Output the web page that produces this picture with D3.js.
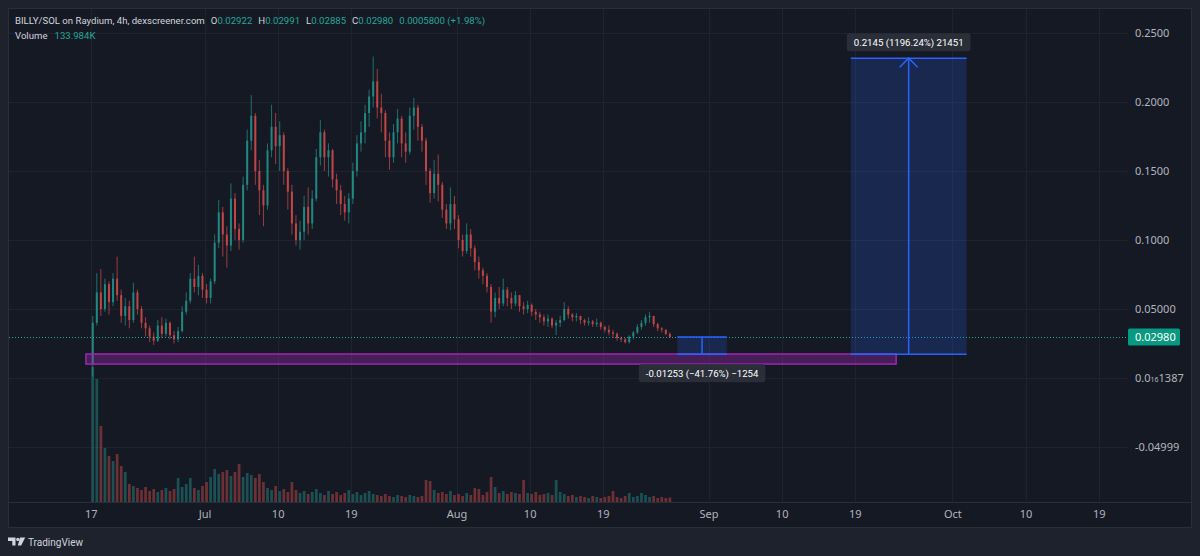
<!DOCTYPE html>
<html>
<head>
<meta charset="utf-8">
<script src="https://cdn.jsdelivr.net/npm/d3@7"></script>
<style>
  html, body { margin: 0; padding: 0; background: #1e222d; }
  svg { display: block; font-family: "Noto Sans", "Open Sans", sans-serif; }
</style>
</head>
<body>
<div id="chart"></div>
<script>
// BILLY/SOL 12h candles, prices in thousandths of SOL
var firstOpen = 10;
var closes = [
  40, 62, 50, 68, 55, 72, 60, 45, 52, 42,
  62, 50, 40, 36, 30, 27, 38, 32, 40, 31,
  28, 34, 48, 56, 72, 66, 74, 64, 58, 70,
  98, 120, 104, 96, 130, 108, 100, 140, 172, 190,
  150, 136, 125, 165, 182, 168, 176, 150, 135, 112,
  100, 106, 124, 112, 130, 160, 178, 160, 165, 144,
  136, 126, 120, 130, 150, 170, 178, 192, 204, 215,
  196, 192, 172, 160, 178, 188, 170, 164, 190, 196,
  182, 172, 150, 134, 148, 140, 122, 112, 126, 115,
  100, 92, 104, 94, 84, 78, 74, 66, 48, 58,
  54, 64, 58, 54, 60, 52, 50, 53, 48, 46,
  44, 41, 43, 38, 40, 42, 50, 46, 44, 45,
  42, 40, 41, 39, 40, 37, 35, 33, 32, 29,
  28, 26, 30, 33, 37, 40, 44, 45, 39, 36,
  35, 32, 29.8
];
var highs = [
  45, 76, 79, 72, 70, 76, 88, 64, 58, 56,
  69, 64, 52, 44, 38, 33, 42, 44, 43, 41,
  34, 37, 52, 62, 76, 88, 82, 76, 68, 72,
  104, 129, 124, 110, 141, 134, 112, 146, 180, 205,
  192, 158, 140, 170, 198, 192, 186, 178, 152, 140,
  118, 114, 132, 138, 136, 166, 187, 180, 170, 166,
  148, 140, 132, 134, 156, 176, 186, 198, 209, 233,
  224, 206, 194, 178, 184, 195, 190, 178, 196, 203,
  198, 184, 174, 152, 158, 162, 142, 126, 138, 132,
  118, 104, 112, 108, 96, 88, 80, 76, 68, 62,
  66, 72, 66, 62, 63, 60, 55, 56, 54, 50,
  48, 46, 46, 44, 42, 45, 55, 52, 47, 47,
  45, 43, 44, 42, 43, 41, 38, 38, 35, 33,
  30, 29, 31, 34, 39, 42, 46, 48, 45, 40,
  37, 35, 33
];
var lows = [
  1, 38, 45, 48, 46, 52, 56, 40, 38, 36,
  40, 46, 36, 30, 26, 24, 26, 29, 30, 28,
  25, 26, 33, 46, 54, 62, 60, 58, 54, 54,
  68, 94, 88, 80, 92, 100, 93, 98, 136, 165,
  140, 118, 110, 122, 160, 155, 150, 140, 122, 104,
  96, 93, 100, 104, 108, 128, 154, 150, 146, 138,
  126, 118, 114, 112, 126, 146, 164, 170, 182, 196,
  188, 178, 160, 151, 156, 170, 160, 156, 162, 180,
  172, 164, 140, 127, 130, 128, 116, 108, 107, 108,
  94, 88, 90, 88, 78, 72, 68, 62, 40, 44,
  50, 52, 52, 50, 52, 48, 46, 47, 45, 42,
  40, 38, 37, 36, 31, 37, 41, 43, 41, 41,
  39, 38, 38, 37, 37, 35, 33, 31, 29, 27,
  26, 25, 25, 28, 32, 35, 38, 40, 37, 34,
  33, 31, 28.9
];
// volume per candle, thousands
var volumes = [
  4050, 3690, 2280, 1620, 1380, 1230, 1440, 1080, 900, 540,
  480, 420, 360, 450, 330, 390, 300, 360, 420, 330,
  390, 720, 450, 540, 720, 420, 360, 480, 600, 750,
  990, 840, 900, 960, 780, 900, 1140, 750, 870, 810,
  720, 840, 600, 420, 360, 480, 330, 390, 300, 600,
  360, 270, 330, 240, 300, 390, 270, 210, 330, 240,
  300, 210, 270, 360, 240, 300, 210, 270, 330, 240,
  210, 180, 240, 180, 150, 210, 180, 150, 210, 180,
  150, 180, 660, 630, 360, 270, 300, 240, 330, 210,
  240, 180, 270, 210, 420, 390, 210, 300, 750, 450,
  270, 330, 240, 300, 270, 240, 660, 270, 240, 300,
  210, 240, 270, 210, 660, 300, 240, 180, 210, 150,
  180, 150, 120, 180, 150, 120, 150, 180, 330, 150,
  120, 180, 270, 150, 180, 270, 210, 150, 180, 120,
  150, 120, 133.984
];

var tickDates = ["2024-06-17", "2024-07-01", "2024-07-10", "2024-07-19", "2024-08-01", "2024-08-10",
                 "2024-08-19", "2024-09-01", "2024-09-10", "2024-09-19", "2024-10-01", "2024-10-10", "2024-10-19"];
var tickLabels = ["17", "Jul", "10", "19", "Aug", "10", "19", "Sep", "10", "19", "Oct", "10", "19"];
var priceTicks = [0.25, 0.2, 0.15, 0.1, 0.05, 0, -0.05];
var priceLabels = ["0.2500", "0.2000", "0.1500", "0.1000", "0.05000", "0.0|16|1387", "-0.04999"];

var lastPrice = 0.02980;
var supportZone = { from: "2024-06-16T10:00Z", to: "2024-09-24T02:00Z", top: 0.0174, bottom: 0.0101 };
var priceRanges = [
  { from: "2024-08-28T04:00Z", to: "2024-09-03T06:00Z", start: 0.02980, end: 0.01727, label: "-0.01253 (\u221241.76%) \u22121254" },
  { from: "2024-09-18T12:00Z", to: "2024-10-02T18:00Z", start: 0.01727, end: 0.23177, label: "0.2145 (1196.24%) 21451" }
];
var legend = [["O", "0.02922"], ["H", "0.02991"], ["L", "0.02885"], ["C", "0.02980"], ["", "0.0005800 (+1.98%)"]];

var width = 1200, height = 556;
var green = "#26a69a", red = "#ef5350", blue = "#2962ff";
var plotRight = 1127, axisY = 502;
var uiFont = "Roboto, \"Noto Sans\", sans-serif";

// build candles: open = previous close
var candles = closes.map(function(c, i) {
  return {
    t: new Date(Date.UTC(2024, 5, 17) + i * 12 * 3600 * 1000),
    o: (i === 0 ? firstOpen : closes[i - 1]) / 1000,
    h: highs[i] / 1000, l: lows[i] / 1000, c: c / 1000,
    v: volumes[i]
  };
});

var x = d3.scaleUtc()
  .domain([new Date("2024-06-17T00:00Z"), new Date("2024-10-19T00:00Z")])
  .range([90.7, 1098.7]);
var y = d3.scaleLinear().domain([-0.05, 0.25]).range([447, 33]);
var yVol = d3.scaleLinear().domain([0, 4500]).range([axisY, axisY - 150]);
var halfStep = 6 * 3600 * 1000;

var svg = d3.select("#chart").append("svg")
  .attr("width", width)
  .attr("height", height);

svg.append("rect").attr("width", width).attr("height", height).attr("fill", "#1e222d");
svg.append("rect")
  .attr("x", 8.5).attr("y", 8.5).attr("width", 1183).attr("height", 519)
  .attr("fill", "#151924").attr("stroke", "#2a2e39");

// grid
var grid = svg.append("g");
grid.selectAll(".vg").data(tickDates).enter().append("line")
  .attr("x1", function(d) { return Math.round(x(new Date(d + "T00:00Z"))) + 0.5; })
  .attr("x2", function(d) { return Math.round(x(new Date(d + "T00:00Z"))) + 0.5; })
  .attr("y1", 9).attr("y2", axisY)
  .attr("stroke", "#1f2330");
grid.selectAll(".hg").data(priceTicks).enter().append("line")
  .attr("x1", 9).attr("x2", plotRight)
  .attr("y1", function(d) { return Math.round(y(d)) + 0.5; })
  .attr("y2", function(d) { return Math.round(y(d)) + 0.5; })
  .attr("stroke", "#1f2330");

// volume
svg.append("g").selectAll("rect").data(candles).enter().append("rect")
  .attr("x", function(d) { return x(d.t) + 0.7; })
  .attr("width", 2.7)
  .attr("y", function(d) { return yVol(d.v); })
  .attr("height", function(d) { return axisY - yVol(d.v); })
  .attr("fill", function(d) { return d.c >= d.o ? green : red; })
  .attr("opacity", 0.4);

// candles
var cg = svg.append("g").attr("opacity", 0.78)
  .selectAll("g").data(candles).enter().append("g");
cg.append("line")
  .attr("x1", function(d) { return x(new Date(+d.t + halfStep)); })
  .attr("x2", function(d) { return x(new Date(+d.t + halfStep)); })
  .attr("y1", function(d) { return y(d.h); })
  .attr("y2", function(d) { return y(d.l); })
  .attr("stroke", function(d) { return d.c >= d.o ? green : red; })
  .attr("stroke-width", 0.8);
cg.append("rect")
  .attr("x", function(d) { return x(new Date(+d.t + halfStep)) - 1; })
  .attr("width", 2)
  .attr("y", function(d) { return y(Math.max(d.o, d.c)); })
  .attr("height", function(d) { return Math.max(0.8, Math.abs(y(d.o) - y(d.c))); })
  .attr("fill", function(d) { return d.c >= d.o ? green : red; });

// support zone
svg.append("rect")
  .attr("x", x(new Date(supportZone.from)))
  .attr("width", x(new Date(supportZone.to)) - x(new Date(supportZone.from)))
  .attr("y", y(supportZone.top))
  .attr("height", y(supportZone.bottom) - y(supportZone.top))
  .attr("fill", "rgba(156,39,176,0.38)")
  .attr("stroke", "#9c27b0").attr("stroke-width", 1.5);

// last price line
svg.append("line")
  .attr("x1", 9).attr("x2", plotRight)
  .attr("y1", Math.round(y(lastPrice)) + 0.5).attr("y2", Math.round(y(lastPrice)) + 0.5)
  .attr("stroke", green).attr("stroke-dasharray", "1,2");

// price range tools
priceRanges.forEach(function(r) {
  var x0 = x(new Date(r.from)), x1 = x(new Date(r.to));
  var ys = y(r.start), ye = y(r.end);
  var top = Math.min(ys, ye), bot = Math.max(ys, ye);
  var up = ye < ys;
  var g = svg.append("g");
  g.append("rect").attr("x", x0).attr("y", top).attr("width", x1 - x0).attr("height", bot - top)
    .attr("fill", "rgba(41,98,255,0.2)");
  g.append("line").attr("x1", x0).attr("x2", x1).attr("y1", top).attr("y2", top)
    .attr("stroke", blue).attr("stroke-width", 1.5);
  g.append("line").attr("x1", x0).attr("x2", x1).attr("y1", bot).attr("y2", bot)
    .attr("stroke", blue).attr("stroke-width", 1.5);
  var xm = (x0 + x1) / 2;
  g.append("line").attr("x1", xm).attr("x2", xm).attr("y1", ys).attr("y2", ye)
    .attr("stroke", blue).attr("stroke-width", 1.5);
  if (bot - top > 40) {
    var head = 9, dir = up ? 1 : -1;
    g.append("path")
      .attr("d", "M" + (xm - head) + "," + (ye + dir * head) + "L" + xm + "," + ye + "L" + (xm + head) + "," + (ye + dir * head))
      .attr("fill", "none").attr("stroke", blue).attr("stroke-width", 1.5);
  }

  var lbl = g.append("g");
  var txt = lbl.append("text")
    .attr("text-anchor", "middle")
    .attr("fill", "#ffffff")
    .style("font-family", uiFont)
    .style("font-size", "9.6px")
    .text(r.label);
  var w = txt.node().getComputedTextLength() + 14;
  var by = up ? top - 25 : bot + 10;
  lbl.insert("rect", "text")
    .attr("x", xm - w / 2).attr("y", by).attr("width", w).attr("height", 18).attr("rx", 3)
    .attr("fill", "#2a2e39");
  txt.attr("x", xm).attr("y", by + 12.5);
});

// time axis
svg.append("line").attr("x1", 9).attr("x2", 1191).attr("y1", axisY + 0.5).attr("y2", axisY + 0.5)
  .attr("stroke", "#2a2e39");
var xAxis = svg.append("g")
  .attr("transform", "translate(0," + axisY + ")")
  .call(d3.axisBottom(x)
    .tickValues(tickDates.map(function(d) { return new Date(d + "T00:00Z"); }))
    .tickFormat(function(d, i) { return tickLabels[i]; })
    .tickSize(0).tickPadding(8));
xAxis.select(".domain").remove();
xAxis.selectAll("text").attr("fill", "#b2b5be").style("font-size", "11px")
  .style("font-family", "\"Noto Sans\", sans-serif");

// price axis
var yAxis = svg.append("g")
  .attr("transform", "translate(1130,0)")
  .call(d3.axisRight(y).tickValues(priceTicks).tickSize(0).tickPadding(5)
    .tickFormat(function(d, i) { return priceLabels[i]; }));
yAxis.select(".domain").remove();
yAxis.selectAll("text").attr("fill", "#b2b5be").style("font-size", "11px")
  .style("font-family", "\"Noto Sans\", sans-serif")
  .each(function(d, i) {
    var parts = priceLabels[i].split("|");
    if (parts.length === 3) {
      var t = d3.select(this).text("");
      t.append("tspan").text(parts[0]);
      t.append("tspan").style("font-size", "7px").text(parts[1]);
      t.append("tspan").text(parts[2]);
    }
  });

// last price label
svg.append("rect").attr("x", 1128).attr("y", y(lastPrice) - 8.5).attr("width", 52).attr("height", 17)
  .attr("rx", 1.5).attr("fill", "#089981");
svg.append("text").attr("x", 1135).attr("y", y(lastPrice) + 4)
  .attr("fill", "#ffffff").style("font-size", "11px").text(d3.format(".5f")(lastPrice));

// legend
var hdr = svg.append("text").attr("x", 15).attr("y", 24)
  .attr("fill", "#d1d4dc").style("font-family", uiFont).style("font-size", "9.6px");
hdr.append("tspan").text("BILLY/SOL on Raydium, 4h, dexscreener.com");
legend.forEach(function(p) {
  if (p[0]) {
    hdr.append("tspan").attr("dx", 6).text(p[0]);
    hdr.append("tspan").attr("fill", green).text(p[1]);
  } else {
    hdr.append("tspan").attr("dx", 6).attr("fill", green).text(p[1]);
  }
});
var vol = svg.append("text").attr("x", 15).attr("y", 39)
  .attr("fill", "#d1d4dc").style("font-family", uiFont).style("font-size", "9.6px");
vol.append("tspan").text("Volume");
vol.append("tspan").attr("dx", 7).attr("fill", green).text(d3.format(".3f")(volumes[volumes.length - 1]) + "K");

// TradingView mark
var logo = svg.append("g").attr("fill", "#d1d4dc");
logo.append("path").attr("d", "M8,537.5h7.5v8h-3.2v-4.6h-4.3z");
logo.append("circle").attr("cx", 17.8).attr("cy", 539.4).attr("r", 1.6);
logo.append("path").attr("d", "M20,537.5h5.2l-4,8h-3.4z");
svg.append("text").attr("x", 28).attr("y", 545.5).attr("fill", "#d1d4dc")
  .style("font-family", uiFont).style("font-size", "10px").text("TradingView");
</script>
</body>
</html>
